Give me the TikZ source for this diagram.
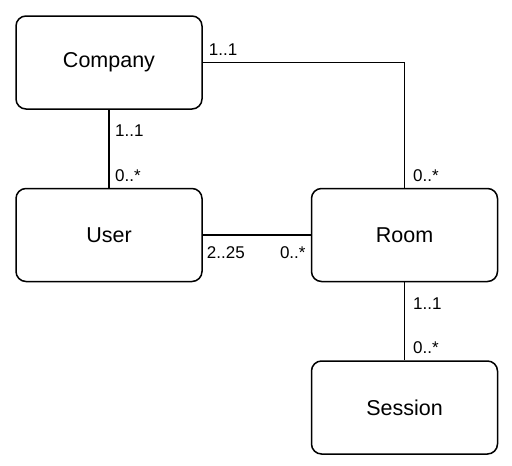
\documentclass[tikz,border=0pt]{standalone}
\usepackage{fontspec}
\setmainfont{Liberation Sans}
\usetikzlibrary{positioning}

\begin{document}
\begin{tikzpicture}[x=1pt, y=1pt,
  entity/.style={rectangle, draw=black, rounded corners=10pt, line width=1.5pt, minimum width=186pt, minimum height=93pt, font=\fontsize{21.5}{25}\selectfont},
  mult/.style={inner sep=0pt, font=\fontsize{17}{20}\selectfont},
  link/.style={draw=black, line width=1.5pt},
  node distance=78pt and 108pt]
\useasboundingbox (0,0) rectangle (512,-466);
\node[entity] (company) at (109,-62.5) {Company};
\node[entity, below=of company] (user) {User};
\node[entity, right=of user] (room) {Room};
\node[entity, below=of room] (session) {Session};
\draw[link] (company) -- (user);
\draw[link] (user) -- (room);
\draw[link] (room) -- (session);
\draw[link] (company.east) -| (room.north);
% multiplicities
\node[mult, anchor=base west] (cr1) at ([xshift=6pt, yshift=7.5pt]company.east) {1..1};
\node[mult, anchor=base west] (cr2) at ([xshift=8.5pt, yshift=6.5pt]room.north) {0..*};
\node[mult, anchor=base west] (cu1) at ([xshift=6pt, yshift=-27pt]company.south) {1..1};
\node[mult, anchor=base west] (cu2) at ([xshift=6pt, yshift=6.5pt]user.north) {0..*};
\node[mult, anchor=base west] (ur1) at ([xshift=4pt, yshift=-23pt]user.east) {2..25};
\node[mult, anchor=base east] (ur2) at ([xshift=-5pt, yshift=-23pt]room.west) {0..*};
\node[mult, anchor=base west] (rs1) at ([xshift=8.5pt, yshift=-27pt]room.south) {1..1};
\node[mult, anchor=base west] (rs2) at ([xshift=8.5pt, yshift=6.5pt]session.north) {0..*};
\end{tikzpicture}
\end{document}
